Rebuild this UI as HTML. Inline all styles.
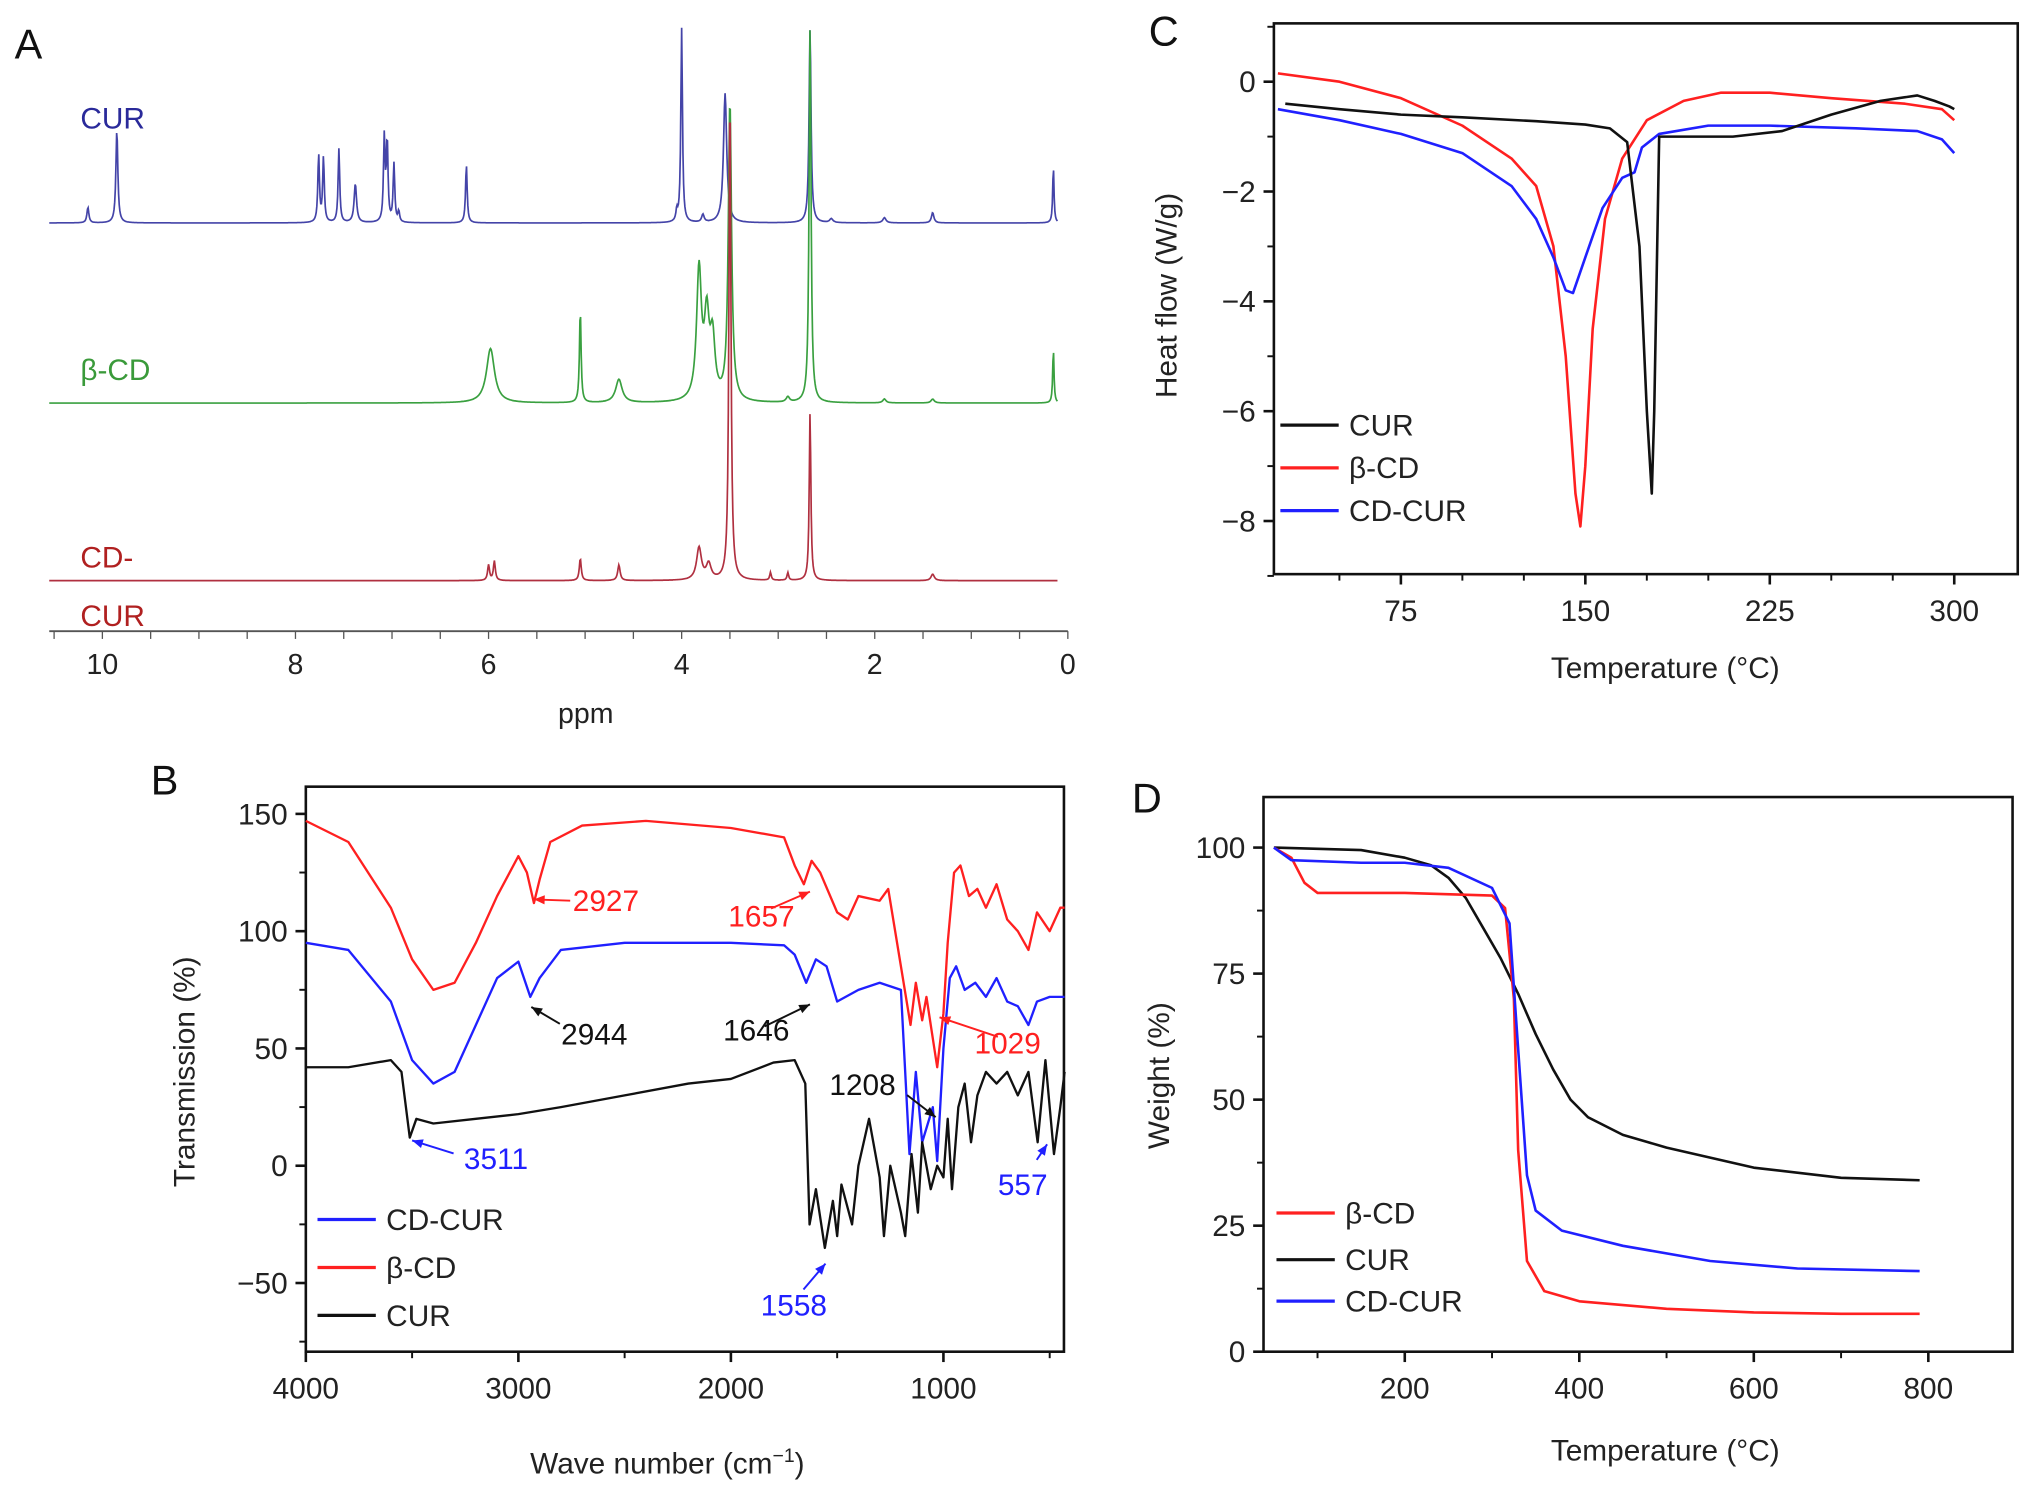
<!DOCTYPE html>
<html><head><meta charset="utf-8"><style>
html,body{margin:0;padding:0;background:#fff;}
svg{display:block;font-family:"Liberation Sans",Arial,sans-serif;}
</style></head><body>
<svg id="fig" width="2032" height="1493" viewBox="0 0 1568 1152" xmlns="http://www.w3.org/2000/svg"></svg>
<script>
// ---------- Panel A (NMR) data: [ppm, height(px), halfwidth(ppm)] ----------
const nmrCurPeaks=[[10.15,12,.012],[9.85,72,.012],[7.76,52,.01],[7.71,50,.01],[7.55,57,.01],[7.38,30,.015],[7.08,65,.01],[7.05,62,.01],[6.98,45,.01],[6.93,8,.01],[6.23,45,.01],[4.05,8,.01],[4.0,150,.01],[3.78,6,.015],[3.55,100,.02],[2.67,150,.012],[2.45,3,.02],[1.9,4,.02],[1.4,8,.015],[0.15,44,.008]];
const nmrCdPeaks=[[5.98,42,.05],[5.05,72,.01],[4.65,18,.04],[3.82,100,.03],[3.74,60,.03],[3.68,45,.03],[3.5,230,.02],[2.67,290,.012],[2.9,4,.02],[1.9,3,.02],[1.4,3,.02],[0.15,42,.008]];
const nmrCdCurPeaks=[[6.0,12,.012],[5.94,15,.012],[5.05,17,.012],[4.65,12,.015],[3.82,25,.03],[3.72,12,.03],[3.5,380,.012],[3.08,6,.01],[2.9,6,.01],[2.67,130,.01],[1.4,5,.02]];
const ppmTicks=[10,8,6,4,2,0];
// ---------- Panel B (FTIR) ----------
const irRed=[[4000,147],[3800,138],[3600,110],[3500,88],[3400,75],[3300,78],[3200,95],[3100,115],[3000,132],[2960,125],[2927,112],[2900,122],[2850,138],[2700,145],[2400,147],[2000,144],[1750,140],[1700,128],[1657,120],[1620,130],[1580,125],[1500,108],[1450,105],[1400,115],[1300,113],[1260,118],[1200,85],[1155,60],[1130,78],[1100,62],[1080,72],[1029,42],[1000,65],[980,95],[950,125],[920,128],[880,115],[840,118],[800,110],[750,120],[700,105],[650,100],[600,92],[560,108],[500,100],[450,110],[430,110]];
const irBlue=[[4000,95],[3800,92],[3600,70],[3500,45],[3400,35],[3300,40],[3200,60],[3100,80],[3000,87],[2944,72],[2900,80],[2800,92],[2500,95],[2000,95],[1750,94],[1700,90],[1646,78],[1600,88],[1550,85],[1500,70],[1400,75],[1300,78],[1200,75],[1160,5],[1130,40],[1100,10],[1050,25],[1029,2],[1000,50],[970,80],[940,85],[900,75],[850,78],[800,72],[750,80],[700,70],[650,68],[600,60],[560,70],[500,72],[430,72]];
const irBlack=[[4000,42],[3800,42],[3600,45],[3550,40],[3511,12],[3480,20],[3400,18],[3200,20],[3000,22],[2800,25],[2500,30],[2200,35],[2000,37],[1800,44],[1700,45],[1650,35],[1630,-25],[1600,-10],[1558,-35],[1520,-15],[1500,-30],[1480,-8],[1430,-25],[1400,0],[1350,20],[1300,-5],[1280,-30],[1250,0],[1200,-20],[1180,-30],[1150,5],[1120,-20],[1100,10],[1060,-10],[1029,0],[1000,-5],[980,20],[960,-10],[930,25],[900,35],[870,10],[840,30],[800,40],[750,35],[700,40],[650,30],[600,40],[557,10],[520,45],[480,5],[450,25],[430,40]];
const irXTicks=[4000,3000,2000,1000];
const irYTicks=[150,100,50,0,-50];
// ---------- Panel C (DSC) ----------
const dscCur=[[28,-0.4],[50,-0.5],[75,-0.6],[100,-0.65],[130,-0.72],[150,-0.78],[160,-0.85],[167,-1.1],[172,-3],[175,-6],[177,-7.5],[178,-6],[180,-1.0],[190,-1.0],[210,-1.0],[230,-0.9],[250,-0.6],[270,-0.35],[285,-0.25],[292,-0.35],[298,-0.45],[300,-0.5]];
const dscCd=[[25,0.15],[50,0],[75,-0.3],[100,-0.8],[120,-1.4],[130,-1.9],[137,-3],[142,-5],[146,-7.5],[148,-8.1],[150,-7],[153,-4.5],[158,-2.5],[165,-1.4],[175,-0.7],[190,-0.35],[205,-0.2],[225,-0.2],[250,-0.3],[280,-0.4],[295,-0.5],[300,-0.7]];
const dscCdCur=[[25,-0.5],[50,-0.7],[75,-0.95],[100,-1.3],[120,-1.9],[130,-2.5],[137,-3.2],[142,-3.8],[145,-3.85],[150,-3.2],[157,-2.3],[165,-1.75],[170,-1.65],[173,-1.2],[180,-0.95],[200,-0.8],[225,-0.8],[260,-0.85],[285,-0.9],[295,-1.05],[300,-1.3]];
const dscXTicks=[75,150,225,300];
const dscYTicks=[0,-2,-4,-6,-8];
// ---------- Panel D (TGA) ----------
const tgaCd=[[50,100],[70,98],[85,93],[100,91],[200,91],[300,90.5],[315,88],[325,70],[330,40],[340,18],[360,12],[400,10],[500,8.5],[600,7.8],[700,7.5],[790,7.5]];
const tgaCur=[[50,100],[150,99.5],[200,98],[230,96.5],[250,94],[270,90],[290,84],[310,78],[330,71],[350,63],[370,56],[390,50],[410,46.5],[450,43],[500,40.5],[600,36.5],[700,34.5],[790,34]];
const tgaCdCur=[[50,100],[70,97.5],[150,97],[200,97],[250,96],[300,92],[320,85],[330,60],[340,35],[350,28],[380,24],[450,21],[550,18],[650,16.5],[790,16]];
const tgaXTicks=[200,400,600,800];
const tgaYTicks=[100,75,50,25,0];

const NS="http://www.w3.org/2000/svg";
const fig=document.getElementById('fig');
function el(tag,attrs,parent,txt){const e=document.createElementNS(NS,tag);for(const k in attrs)e.setAttribute(k,attrs[k]);if(txt!==undefined)e.textContent=txt;(parent||fig).appendChild(e);return e;}
function lin(d0,d1,r0,r1){return v=>r0+(v-d0)*(r1-r0)/(d1-d0);}
function grp(name){const g=el('g',{},fig);return g;}
function txt(g,x,y,s,size,anchor,fill,name){const t=el('text',{x:x,y:y,'font-size':size,'text-anchor':anchor||'middle',fill:fill||'#222'},g,s);return t;}
function line(g,data,sx,sy,color,name,w){const d=data.map((p,i)=>(i?'L':'M')+sx(p[0]).toFixed(1)+' '+sy(p[1]).toFixed(1)).join(' ');const p=el('path',{d:d,fill:'none',stroke:color,'stroke-width':w||2,'stroke-linejoin':'round'},g);return p;}

// ===== Panel A =====
(function(){
const g=grp('panel-a-nmr');
const sx=lin(10,0,79,824);
txt(g,22,45,'A',32,'middle','#111','panel-label-a');
const ax=el('line',{x1:38,y1:487,x2:824,y2:487,stroke:'#555','stroke-width':1.5},g);

for(let v=10.5;v>=0;v-=0.5){if(sx(v)<38)continue;el('line',{x1:sx(v),y1:487,x2:sx(v),y2:493,stroke:'#555','stroke-width':1},g);}
ppmTicks.forEach(v=>txt(g,sx(v),520,String(v),22,'middle','#222','x-tick-label'));
txt(g,452,558,'ppm',22,'middle','#222','x-axis-title');
function spec(peaks,base,color,name){const pts=[];for(let x=38;x<=816;x+=0.5){const ppm=10-(x-79)*10/(824-79);let h=0;peaks.forEach(p=>{const dx=(ppm-p[0])/p[2];h+=p[1]/(1+dx*dx);});pts.push([x,base-h]);}
const p=el('path',{d:pts.map((q,i)=>(i?'L':'M')+q[0]+' '+q[1].toFixed(1)).join(' '),fill:'none',stroke:color,'stroke-width':1.3},g);}
spec(nmrCurPeaks,172,'#4444a8','spectrum-cur');
spec(nmrCdPeaks,311,'#3aa040','spectrum-beta-cd');
spec(nmrCdCurPeaks,448,'#b03040','spectrum-cd-cur');
txt(g,62,99,'CUR',23,'start','#2a2a9a','label-cur');
txt(g,62,293,'β-CD',23,'start','#3a9a3a','label-beta-cd');
txt(g,62,438,'CD-',23,'start','#b02020','label-cd-cur-1');
txt(g,62,483,'CUR',23,'start','#b02020','label-cd-cur-2');
})();

function frame(g,x0,y0,x1,y1,sx,sy,xt,yt,xminor,yminor){
const r=el('rect',{x:x0,y:y0,width:x1-x0,height:y1-y0,fill:'none',stroke:'#111','stroke-width':2},g);
xt.forEach(v=>{el('line',{x1:sx(v),y1:y1,x2:sx(v),y2:y1+8,stroke:'#111','stroke-width':2},g);txt(g,sx(v),y1+36,String(v).replace('-','−'),23,'middle','#222','x-tick-label');});
yt.forEach(v=>{el('line',{x1:x0,y1:sy(v),x2:x0-8,y2:sy(v),stroke:'#111','stroke-width':2},g);txt(g,x0-14,sy(v)+8,String(v).replace('-','−'),23,'end','#222','y-tick-label');});
(xminor||[]).forEach(v=>el('line',{x1:sx(v),y1:y1,x2:sx(v),y2:y1+5,stroke:'#111','stroke-width':1.5},g));
(yminor||[]).forEach(v=>el('line',{x1:x0,y1:sy(v),x2:x0-5,y2:sy(v),stroke:'#111','stroke-width':1.5},g));
}
function legend(g,x,ys,items){items.forEach((it,i)=>{const l=el('line',{x1:x,y1:ys[i],x2:x+45,y2:ys[i],stroke:it[1],'stroke-width':2.5},g);txt(g,x+53,ys[i]+8,it[0],23,'start','#222','legend-entry');});}
function vtitle(g,x,y,s,name){const t=el('text',{x:0,y:0,'font-size':23,'text-anchor':'middle',fill:'#222',transform:`translate(${x},${y}) rotate(-90)`},g,s);}

// ===== Panel B =====
(function(){
const g=grp('panel-b-ftir');
const sx=lin(4000,1000,236,728), sy=lin(150,-50,628,990);
txt(g,127,613,'B',32,'middle','#111','panel-label-b');
frame(g,236,607,821,1043,sx,sy,irXTicks,irYTicks,[3500,2500,1500,500],[125,75,25,-25,-75]);
line(g,irRed,sx,sy,'#ff2020','series-beta-cd',1.8);
line(g,irBlue,sx,sy,'#2020ff','series-cd-cur',1.8);
line(g,irBlack,sx,sy,'#111','series-cur',1.8);
vtitle(g,150,827,'Transmission (%)','y-axis-title');
const t=txt(g,515,1137,'Wave number (cm',23,'middle','#222','x-axis-title');
el('tspan',{dy:-9,'font-size':15},t,'−1');el('tspan',{dy:9},t,')');
legend(g,245,[941,978,1015],[['CD-CUR','#2020ff'],['β-CD','#ff2020'],['CUR','#111']]);
function ann(x1,y1,x2,y2,s,tx,ty,c){const a=el('path',{d:`M${x1} ${y1} L${x2} ${y2}`,stroke:c,'stroke-width':1.5,fill:'none'},g);
const ang=Math.atan2(y2-y1,x2-x1),L=9;el('path',{d:`M${x2} ${y2} L${x2-L*Math.cos(ang-0.4)} ${y2-L*Math.sin(ang-0.4)} L${x2-L*Math.cos(ang+0.4)} ${y2-L*Math.sin(ang+0.4)} Z`,fill:c},g);
txt(g,tx,ty,s,23,'start',c,'peak-label');}
ann(440,695,412,694,'2927',442,703,'#ff2020');
ann(595,701,625,688,'1657',562,715,'#ff2020');
ann(432,790,410,777,'2944',433,806,'#111');
ann(590,792,625,775,'1646',558,803,'#111');
ann(770,800,725,785,'1029',752,813,'#ff2020');
ann(700,845,722,862,'1208',640,845,'#111');
ann(350,890,318,880,'3511',358,902,'#2020ff');
ann(620,995,637,975,'1558',587,1015,'#2020ff');
ann(800,895,808,883,'557',770,922,'#2020ff');
})();

// ===== Panel C =====
(function(){
const g=grp('panel-c-dsc');
const sx=lin(75,300,1081,1508), sy=lin(0,-8,63,402);
txt(g,898,35,'C',32,'middle','#111','panel-label-c');
frame(g,983,18,1557,443,sx,sy,dscXTicks,dscYTicks,[50,100,125,175,200,250,275],[1,-1,-3,-5,-7,-9]);
line(g,dscCd,sx,sy,'#ff2020','series-beta-cd');
line(g,dscCdCur,sx,sy,'#2020ff','series-cd-cur');
line(g,dscCur,sx,sy,'#111','series-cur');
vtitle(g,908,228,'Heat flow (W/g)','y-axis-title');
txt(g,1285,523,'Temperature (°C)',23,'middle','#222','x-axis-title');
legend(g,988,[328,361,394],[['CUR','#111'],['β-CD','#ff2020'],['CD-CUR','#2020ff']]);
})();

// ===== Panel D =====
(function(){
const g=grp('panel-d-tga');
const sx=lin(200,800,1084,1488), sy=lin(100,0,654,1043);
txt(g,885,627,'D',32,'middle','#111','panel-label-d');
frame(g,975,615,1553,1043,sx,sy,tgaXTicks,tgaYTicks,[100,300,500,700],[87.5,62.5,37.5,12.5]);
line(g,tgaCur,sx,sy,'#111','series-cur');
line(g,tgaCd,sx,sy,'#ff2020','series-beta-cd');
line(g,tgaCdCur,sx,sy,'#2020ff','series-cd-cur');
vtitle(g,902,830,'Weight (%)','y-axis-title');
txt(g,1285,1127,'Temperature (°C)',23,'middle','#222','x-axis-title');
legend(g,985,[936,972,1004],[['β-CD','#ff2020'],['CUR','#111'],['CD-CUR','#2020ff']]);
})();
</script>
</body></html>
